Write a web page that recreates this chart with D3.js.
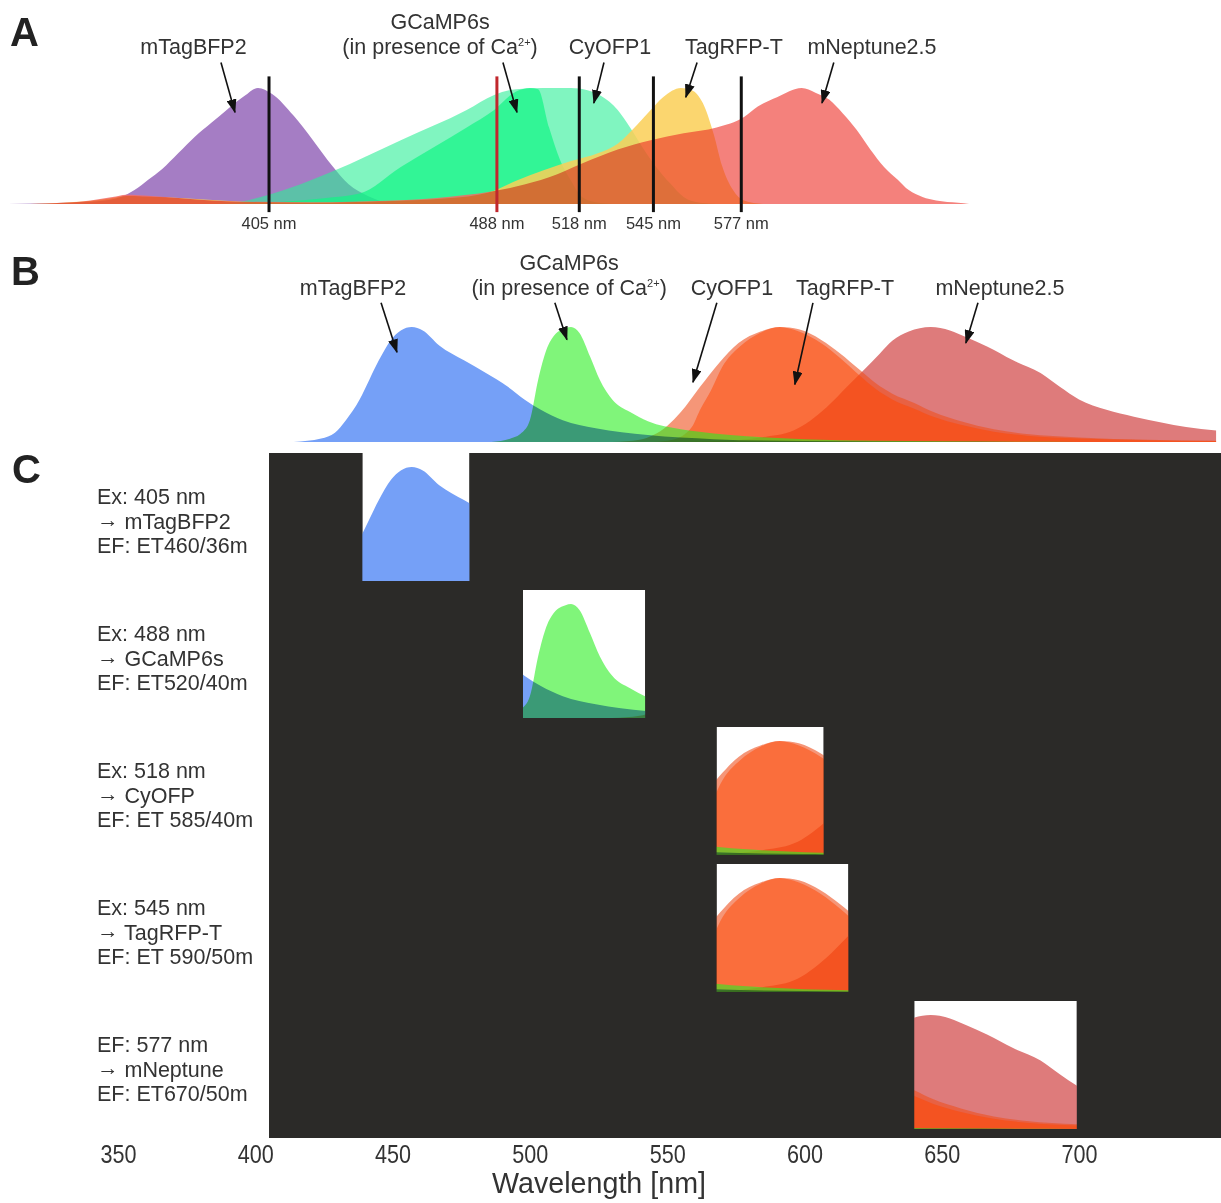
<!DOCTYPE html>
<html>
<head>
<meta charset="utf-8">
<script src="https://cdn.jsdelivr.net/npm/d3@7"></script>
<style>
  body { margin: 0; background: #fff; }
  svg { display: block; font-family: "Liberation Sans", Arial, sans-serif; }
  .lbl { font-size: 21.5px; fill: #333; }
  .panel { font-size: 40px; font-weight: bold; fill: #222; }
  .nm { font-size: 16.5px; fill: #333; }
</style>
</head>
<body>
<svg id="chart" width="1221" height="1203"></svg>
<script>
// ---- data: [wavelength nm, normalised intensity] ----
const fpNames = ["mTagBFP2", "GCaMP6s", "CyOFP1", "TagRFP-T", "mNeptune2.5"];

// excitation spectra (panel A)
const exTagBFP2 = [[310,0],[320,0.005],[335,0.015],[345,0.03],[351,0.06],[356,0.12],[361,0.21],[366,0.3],[372,0.44],[378,0.58],[384,0.7],[390,0.82],[396,0.93],[401,1.0],[406,0.95],[414,0.76],[421,0.55],[428,0.33],[434,0.17],[441,0.07],[447,0.02],[455,0.005],[470,0]];
const exGCaMP6s = [[395,0],[410,0.02],[425,0.05],[438,0.09],[453,0.32],[465,0.49],[477,0.66],[487,0.81],[495,0.97],[500,1.0],[503,0.99],[507,0.66],[511,0.38],[515,0.2],[519,0.06],[525,0.01],[530,0]];
const exCyOFP1 = [[385,0],[392,0.01],[405,0.08],[428,0.28],[453,0.55],[477,0.81],[487,0.94],[495,0.99],[505,1.0],[515,1.0],[521,0.98],[526,0.93],[532,0.81],[536.5,0.66],[541,0.49],[546,0.32],[551,0.18],[556,0.06],[562,0.01],[568,0]];
const exTagRFPT = [[318,0],[330,0.01],[345,0.04],[353,0.07],[365,0.06],[380,0.04],[395,0.02],[420,0.01],[440,0.02],[470,0.05],[485,0.1],[495,0.2],[505,0.29],[515,0.37],[525,0.44],[532,0.52],[539,0.68],[544,0.81],[548.5,0.92],[555,1.0],[559,0.98],[563,0.87],[567,0.6],[570,0.33],[574,0.12],[578,0.03],[585,0]];
const exNeptune = [[318,0],[330,0.01],[340,0.03],[348,0.06],[353,0.08],[362,0.07],[373,0.05],[384,0.03],[395,0.02],[420,0.015],[450,0.03],[470,0.06],[495,0.15],[507,0.23],[519,0.35],[532,0.47],[544,0.55],[556,0.61],[568,0.66],[578,0.75],[583,0.84],[590,0.92],[599,1.0],[604,0.96],[609,0.9],[614,0.78],[619,0.64],[624,0.47],[629,0.32],[634,0.21],[638,0.12],[643,0.06],[648,0.03],[656,0.01],[660,0]];

// emission spectra (panel B and C)
const emTagBFP2 = [[414,0],[424,0.03],[429,0.08],[433,0.19],[438,0.37],[441.5,0.54],[445,0.71],[449.5,0.89],[453,0.97],[457,1.0],[461,0.97],[467,0.84],[476,0.71],[484,0.6],[492,0.48],[498,0.37],[504,0.28],[512,0.19],[524,0.12],[543,0.06],[567,0.025],[600,0.008],[650,0.002],[700,0]];
const emGCaMP6s = [[486,0],[493,0.03],[497,0.08],[500,0.19],[503,0.54],[506,0.8],[509,0.93],[513,0.99],[515,1.0],[518,0.95],[522,0.74],[525.5,0.54],[530,0.37],[536.5,0.26],[543,0.18],[555,0.11],[567,0.075],[579,0.05],[600,0.025],[650,0.006],[700,0]];
const emCyOFP1 = [[530,0],[540,0.02],[545,0.06],[550,0.14],[555,0.26],[562,0.48],[569,0.69],[576,0.86],[584,0.96],[591,1.0],[598,0.98],[606,0.89],[613,0.77],[620,0.63],[626,0.51],[632,0.42],[640,0.34],[647,0.26],[657,0.18],[669,0.11],[681,0.07],[700,0.04],[725,0.02],[750,0.01]];
const emTagRFPT = [[545,0],[552,0.02],[559,0.13],[562,0.28],[566,0.45],[570,0.65],[576.5,0.83],[584,0.95],[591,1.0],[598,0.96],[606,0.86],[613,0.73],[620,0.58],[626,0.46],[632,0.37],[640,0.29],[647,0.22],[657,0.15],[669,0.09],[681,0.055],[700,0.03],[725,0.015],[750,0.008]];
const emNeptune = [[555,0],[570,0.01],[584,0.04],[596,0.1],[608,0.3],[615.5,0.48],[621,0.61],[627.5,0.77],[632,0.88],[638,0.96],[646,1.0],[653,0.97],[659,0.91],[666.5,0.83],[676,0.71],[686,0.6],[693,0.48],[700,0.37],[710,0.28],[720,0.22],[730,0.17],[739,0.13],[750,0.1]];

// fills, in the order the five proteins are listed; opacity per layer
const exColors = ["#a57dc4", "#11f584", "#2bee96", "#fbd057", "#f36c66"];
const exOpacity = [1, 0.7, 0.6, 1, 1];
const emColors = ["#75a0f7", "#2bee21", "#ee501e", "#ff4600", "#de7b7b"];
const emOpacity = [1, 0.6, 0.6, 0.5, 1];

// excitation lasers
const lasers = [405, 488, 518, 545, 577];
const laserColors = ["#111", "#c1272d", "#111", "#111", "#111"];

// label positions (nm) and arrows [tail nm, tail value, tip nm, tip value]
const labelNmA = [377.5, 467.3, 529.2, 574.3, 624.6];
const labelNmB = [435.6, 514.3, 573.6, 614.8, 671.2];
const arrowsA = [[387.5,1.22,392.6,0.79],[490.2,1.22,495.3,0.79],[527,1.22,523.3,0.87],[560.9,1.22,556.8,0.92],[610.7,1.22,606.4,0.87]];
const arrowsB = [[445.8,1.21,451.6,0.78],[509.1,1.21,513.5,0.89],[568.1,1.21,559.4,0.52],[603.1,1.21,596.5,0.5],[663.2,1.21,658.8,0.86]];

// panel C: channels and emission filter bands
const channelExc = ["Ex: 405 nm", "Ex: 488 nm", "Ex: 518 nm", "Ex: 545 nm", "EF: 577 nm"];
const channelFp = ["mTagBFP2", "GCaMP6s", "CyOFP", "TagRFP-T", "mNeptune"];
const channelFilter = ["EF: ET460/36m", "EF: ET520/40m", "EF: ET 585/40m", "EF: ET 590/50m", "EF: ET670/50m"];
const filterBands = [[439,478],[497.5,542],[568,607],[568,616],[640,699.2]];
const ticks = [350, 400, 450, 500, 550, 600, 650, 700];

const exData = [exTagBFP2, exGCaMP6s, exCyOFP1, exTagRFPT, exNeptune];
const emData = [emTagBFP2, emGCaMP6s, emCyOFP1, emTagRFPT, emNeptune];

// ---- scales ----
const svg = d3.select("#chart");
const x = d3.scaleLinear().domain([350, 700]).range([118, 1079]);
const yA = d3.scaleLinear().domain([0, 1]).range([204, 88]);
const yB = d3.scaleLinear().domain([0, 1]).range([442, 327]);
const rowY = d3.scaleBand().domain(d3.range(5)).range([453, 1138]);

svg.append("defs").append("marker")
  .attr("id", "arrow")
  .attr("markerUnits", "userSpaceOnUse")
  .attr("markerWidth", 14).attr("markerHeight", 10)
  .attr("refX", 13).attr("refY", 5)
  .attr("orient", "auto")
  .append("path").attr("d", "M0,0 L14,5 L0,10 Z").attr("fill", "#111");

function layer(g, i, data, colors, opacity, y, blend) {
  const area = d3.area()
    .curve(d3.curveMonotoneX)
    .x(d => x(d[0]))
    .y0(y(0))
    .y1(d => y(d[1]));
  return g.append("path")
    .attr("d", area(data[i]))
    .attr("fill", colors[i])
    .attr("fill-opacity", opacity[i])
    .style("mix-blend-mode", blend || "normal");
}

// excitation: purple, CyOFP1, GCaMP6s, then TagRFP-T x mNeptune2.5 multiplied in their own group
function drawExcitation(g, y) {
  layer(g, 0, exData, exColors, exOpacity, y);
  layer(g, 2, exData, exColors, exOpacity, y);
  layer(g, 1, exData, exColors, exOpacity, y);
  const red = g.append("g").attr("opacity", 0.85).style("isolation", "isolate");
  layer(red, 3, exData, exColors, exOpacity, y, "multiply");
  layer(red, 4, exData, exColors, exOpacity, y, "multiply");
}

// emission: mNeptune2.5, CyOFP1, TagRFP-T, GCaMP6s, mTagBFP2 (multiplied on top)
function drawEmission(g, y) {
  layer(g, 4, emData, emColors, emOpacity, y);
  layer(g, 2, emData, emColors, emOpacity, y);
  layer(g, 3, emData, emColors, emOpacity, y);
  layer(g, 1, emData, emColors, emOpacity, y);
  layer(g, 0, emData, emColors, emOpacity, y, "multiply");
}

function drawLabels(g, nms, yTop) {
  nms.forEach((nm, i) => {
    if (i == 1) {
      g.append("text").attr("class", "lbl").attr("x", x(nm)).attr("y", yTop - 25)
        .attr("text-anchor", "middle").text("GCaMP6s");
      const t = g.append("text").attr("class", "lbl").attr("x", x(nm)).attr("y", yTop)
        .attr("text-anchor", "middle");
      t.append("tspan").text("(in presence of Ca");
      t.append("tspan").attr("dy", -8).style("font-size", "11px").text("2+");
      t.append("tspan").attr("dy", 8).text(")");
    } else {
      g.append("text").attr("class", "lbl").attr("x", x(nm)).attr("y", yTop)
        .attr("text-anchor", "middle").text(fpNames[i]);
    }
  });
}

function drawArrows(g, arrows, y) {
  g.selectAll("line.arr").data(arrows).join("line")
    .attr("class", "arr")
    .attr("x1", d => x(d[0])).attr("y1", d => y(d[1]))
    .attr("x2", d => x(d[2])).attr("y2", d => y(d[3]))
    .attr("stroke", "#111").attr("stroke-width", 1.6)
    .attr("marker-end", "url(#arrow)");
}

// ---- panel A: excitation ----
const gA = svg.append("g");
drawExcitation(gA.append("g").style("isolation", "isolate"), yA);
gA.selectAll("line.laser").data(lasers).join("line")
  .attr("class", "laser")
  .attr("x1", d => x(d)).attr("x2", d => x(d))
  .attr("y1", yA(1.1)).attr("y2", yA(-0.07))
  .attr("stroke", (d, i) => laserColors[i]).attr("stroke-width", 3);
gA.selectAll("text.nm").data(lasers).join("text")
  .attr("class", "nm")
  .attr("x", d => x(d)).attr("y", 229)
  .attr("text-anchor", "middle")
  .text(d => d + " nm");
drawLabels(gA, labelNmA, 54);
drawArrows(gA, arrowsA, yA);
svg.append("text").attr("class", "panel").attr("x", 10).attr("y", 46).text("A");

// ---- panel B: emission ----
svg.append("clipPath").attr("id", "clipB")
  .append("rect").attr("x", 0).attr("y", 0).attr("width", x(750)).attr("height", 460);
const gB = svg.append("g");
drawEmission(gB.append("g").attr("clip-path", "url(#clipB)").style("isolation", "isolate"), yB);
drawLabels(gB, labelNmB, 295);
drawArrows(gB, arrowsB, yB);
svg.append("text").attr("class", "panel").attr("x", 11).attr("y", 285).text("B");

// ---- panel C: emission through filters ----
const gC = svg.append("g");
gC.append("rect")
  .attr("x", x(405)).attr("y", rowY.range()[0])
  .attr("width", 1221 - x(405)).attr("height", rowY.range()[1] - rowY.range()[0])
  .attr("fill", "#2b2a28");

filterBands.forEach((band, i) => {
  const top = rowY(i);
  const bottom = top + 128;
  const yW = d3.scaleLinear().domain([0, 1]).range([bottom, bottom - 114]);
  gC.append("clipPath").attr("id", "win" + i)
    .append("rect")
    .attr("x", x(band[0])).attr("y", top)
    .attr("width", x(band[1]) - x(band[0])).attr("height", 128);
  const w = gC.append("g").attr("clip-path", "url(#win" + i + ")").style("isolation", "isolate");
  w.append("rect")
    .attr("x", x(band[0])).attr("y", top)
    .attr("width", x(band[1]) - x(band[0])).attr("height", 128)
    .attr("fill", "#fff");
  drawEmission(w, yW);

  const t = gC.append("text").attr("class", "lbl").attr("x", 97).attr("y", top + 51);
  t.append("tspan").attr("x", 97).text(channelExc[i]);
  t.append("tspan").attr("x", 97).attr("dy", 22.5).text("\u2192");
  t.append("tspan").attr("dy", 2).text(" " + channelFp[i]);
  t.append("tspan").attr("x", 97).attr("dy", 24.5).text(channelFilter[i]);
});
svg.append("text").attr("class", "panel").attr("x", 12).attr("y", 483).text("C");

// ---- wavelength axis ----
const axis = svg.append("g")
  .attr("transform", "translate(0,1145)")
  .call(d3.axisBottom(x).tickValues(ticks).tickSize(0).tickPadding(0).tickFormat(d3.format("d")));
axis.select(".domain").remove();
axis.selectAll("text")
  .attr("font-family", "'Liberation Sans Narrow', 'Arial Narrow', 'Liberation Sans', sans-serif")
  .attr("font-size", 25)
  .attr("fill", "#333")
  .attr("textLength", 36)
  .attr("lengthAdjust", "spacingAndGlyphs");

svg.append("text")
  .attr("x", 599).attr("y", 1193)
  .attr("text-anchor", "middle")
  .attr("font-family", "'Liberation Sans Narrow', 'Arial Narrow', 'Liberation Sans', sans-serif")
  .attr("font-size", 30)
  .attr("fill", "#333")
  .attr("textLength", 214)
  .attr("lengthAdjust", "spacingAndGlyphs")
  .text("Wavelength [nm]");
</script>
</body>
</html>
